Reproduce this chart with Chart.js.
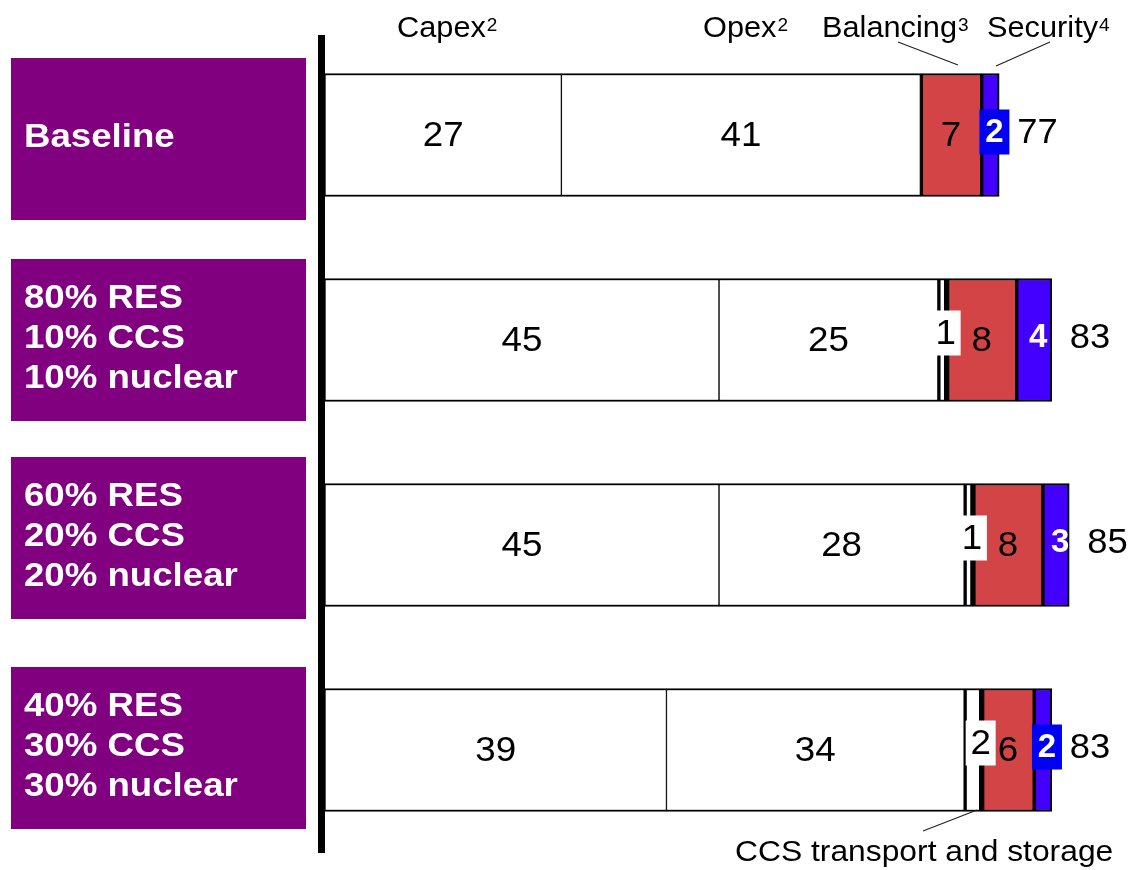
<!DOCTYPE html>
<html>
<head>
<meta charset="utf-8">
<script src="https://cdn.jsdelivr.net/npm/chart.js@4"></script>
<style>
  html, body { margin: 0; padding: 0; background: #fff; }
  canvas { display: block; }
</style>
</head>
<body>
<canvas id="c" width="1128" height="870"></canvas>
<script>
// Scenario names (one entry per line of the purple label)
const scenarios = [
  ['Baseline'],
  ['80% RES', '10% CCS', '10% nuclear'],
  ['60% RES', '20% CCS', '20% nuclear'],
  ['40% RES', '30% CCS', '30% nuclear']
];
// Cost components per scenario
const capex     = [27, 45, 45, 39];
const opex      = [41, 25, 28, 34];
const ccs       = [null, 1, 1, 2];
const balancing = [7, 8, 8, 6];
const security  = [2, 4, 3, 2];

const FONT = "'Liberation Sans', Arial, sans-serif";

// Draw text with an optional horizontal stretch factor
function txt(ctx, s, x, y, o) {
  ctx.save();
  ctx.font = (o.bold ? 'bold ' : '') + o.size + 'px ' + FONT;
  ctx.fillStyle = o.color || '#000';
  ctx.textBaseline = o.baseline || 'middle';
  ctx.textAlign = 'left';
  const sx = o.sx || 1;
  const w = ctx.measureText(s).width * sx;
  let x0 = x;
  if (o.align === 'center') x0 = x - w / 2;
  else if (o.align === 'right') x0 = x - w;
  ctx.translate(x0, y);
  ctx.scale(sx, 1);
  ctx.fillText(s, 0, 0);
  ctx.restore();
  return w;
}

// Header text with a superscript footnote marker
function headed(ctx, main, sup, x, y) {
  const w = txt(ctx, main, x, y, { size: 29, baseline: 'alphabetic', sx: 1.06 });
  txt(ctx, sup, x + w + 1, y - 6, { size: 19, baseline: 'alphabetic' });
}

function line(ctx, x1, y1, x2, y2) {
  ctx.save();
  ctx.strokeStyle = '#222';
  ctx.lineWidth = 1.2;
  ctx.beginPath();
  ctx.moveTo(x1, y1);
  ctx.lineTo(x2, y2);
  ctx.stroke();
  ctx.restore();
}

// small vertical nudges of the scenario tags around their rows
const tagShift = [4, 0, -7, -2];

const deco = {
  id: 'deco',
  afterDatasetsDraw(chart) {
    const ctx = chart.ctx;
    const m = i => chart.getDatasetMeta(i).data;
    for (let j = 0; j < scenarios.length; j++) {
      const y = m(0)[j].y;
      // labels centred in the wide segments
      [[0, capex], [1, opex], [3, balancing]].forEach(([d, arr]) => {
        const el = m(d)[j];
        txt(ctx, String(arr[j]), (el.x + el.base) / 2, y + 1, { size: 35, align: 'center', sx: 1.05 });
      });
      // CCS transport and storage: value on a white tag
      if (ccs[j] != null) {
        const el = m(2)[j];
        const cx = el.x - 1;
        ctx.fillStyle = '#fff';
        ctx.fillRect(cx - 15, y - 7 - 22.5, 30, 45);
        txt(ctx, String(ccs[j]), cx, y - 6, { size: 35, align: 'center', sx: 1.05 });
      }
      // security: white bold value, on a blue tag where the segment is narrow
      const es = m(4)[j];
      const w = es.x - es.base;
      const cx = (es.x + es.base) / 2 + 4;
      if (w < 24) {
        ctx.fillStyle = '#0000f2';
        ctx.fillRect(cx - 15, y - 3 - 22.5, 30, 45);
      }
      txt(ctx, String(security[j]), cx, y - 2, { size: 33, bold: true, color: '#fff', align: 'center' });
      // total
      const total = capex[j] + opex[j] + (ccs[j] || 0) + balancing[j] + security[j];
      txt(ctx, String(total), es.x + 18, y - 2, { size: 35, sx: 1.04 });
    }
  },
  afterDraw(chart) {
    const ctx = chart.ctx;
    const ys = chart.scales.y;
    // scenario tags
    scenarios.forEach((lines, j) => {
      const cy = ys.getPixelForValue(j) + tagShift[j];
      ctx.fillStyle = '#800080';
      ctx.fillRect(11, cy - 81, 295, 162);
      const lh = 40;
      const start = cy - 1 - (lines.length - 1) * lh / 2;
      lines.forEach((s, k) => {
        txt(ctx, s, 24, start + k * lh, { size: 33, bold: true, color: '#fff', sx: 1.11 });
      });
    });
    // vertical axis
    ctx.fillStyle = '#000';
    ctx.fillRect(318, 35, 7, 818);
    // column headers
    headed(ctx, 'Capex', '2', 397, 37);
    headed(ctx, 'Opex', '2', 703, 37);
    headed(ctx, 'Balancing', '3', 822, 37);
    headed(ctx, 'Security', '4', 987, 37);
    line(ctx, 898, 42, 958, 65);
    line(ctx, 1050, 42, 996, 66);
    // footnote callout
    txt(ctx, 'CCS transport and storage', 735, 861, { size: 30, baseline: 'alphabetic', sx: 1.06 });
    line(ctx, 923, 831, 977, 810);
  }
};

const wBorder = { top: 2, bottom: 2, left: 1, right: 1 };

new Chart(document.getElementById('c'), {
  type: 'bar',
  data: {
    labels: scenarios.map(s => s.join(' ')),
    datasets: [
      { label: 'Capex', data: capex, backgroundColor: '#fff', borderColor: '#000', borderWidth: wBorder },
      { label: 'Opex', data: opex, backgroundColor: '#fff', borderColor: '#000', borderWidth: wBorder },
      { label: 'CCS transport and storage', data: ccs, backgroundColor: '#fff', borderColor: '#000',
        borderWidth: { top: 2, bottom: 2, left: 3, right: 3 } },
      { label: 'Balancing', data: balancing, backgroundColor: '#d24446', borderColor: '#000',
        borderWidth: { top: 2, bottom: 2, left: 3, right: 2 } },
      { label: 'Security', data: security, backgroundColor: '#4400ff', borderColor: '#000',
        borderWidth: { top: 2, bottom: 2, left: 2, right: 2 } }
    ]
  },
  options: {
    indexAxis: 'y',
    responsive: false,
    animation: false,
    devicePixelRatio: 1,
    layout: { padding: { left: 325, right: 15, top: 32.5, bottom: 17.5 } },
    datasets: { bar: { barThickness: 123, borderSkipped: false } },
    plugins: { legend: { display: false }, tooltip: { enabled: false } },
    scales: {
      x: { stacked: true, min: 0, max: 90, display: false },
      y: { stacked: true, display: false }
    }
  },
  plugins: [deco]
});
</script>
</body>
</html>
